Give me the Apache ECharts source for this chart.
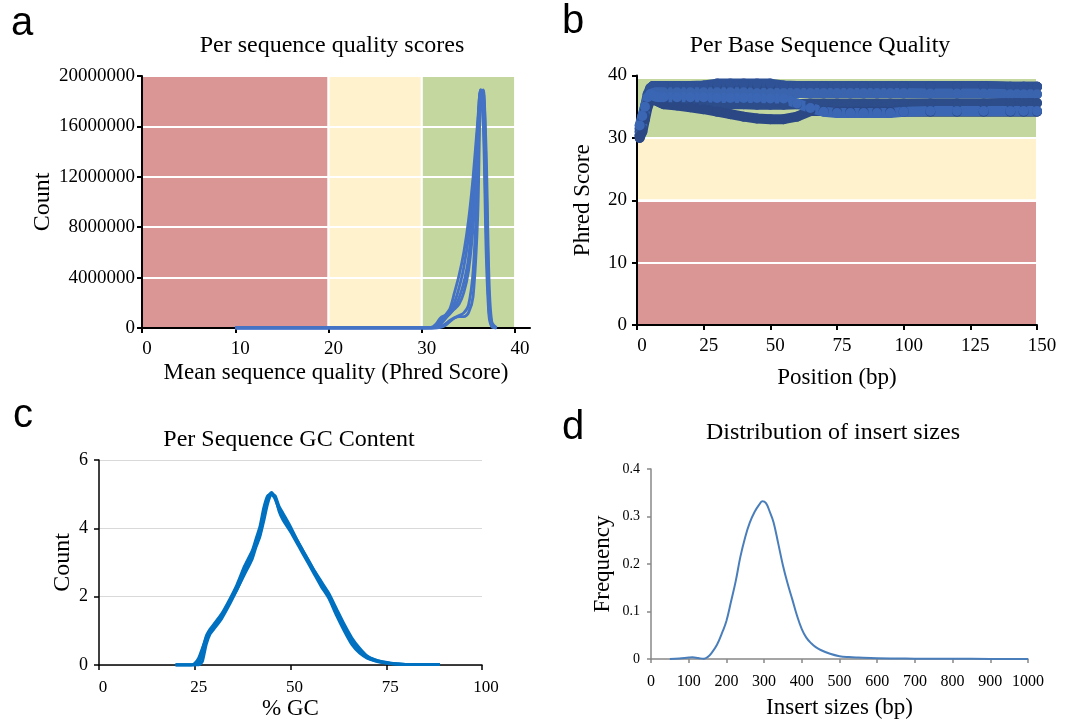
<!DOCTYPE html>
<html>
<head>
<meta charset="utf-8">
<script src="https://cdn.jsdelivr.net/npm/echarts@6/dist/echarts.min.js"></script>
<style>html,body{margin:0;padding:0;background:#fff;}#main{width:1084px;height:721px;}</style>
</head>
<body>
<div id="main"></div>
<script>
// ---------- Panel a: Per sequence quality scores ----------
const qualX = [10, 20, 30, 31, 31.5, 32, 32.5, 33, 33.5, 34, 34.5, 35, 35.5, 36, 36.3, 36.6, 36.9, 37.2, 37.5, 38];
// counts in millions
const qualS1 = [0,0,0,0,0.1,0.5,1.0,1.5,2.8,4.2,6.0,8.5,12,16.5,18.9,17,8,1.5,0.2,0];
const qualS2 = [0,0,0,0,0.05,0.3,0.7,1.2,2.0,3.2,4.8,7.2,11,16,18.8,18.5,10,2,0.3,0];
const qualS3 = [0,0,0,0,0,0.1,0.3,0.6,0.8,0.9,0.9,1.2,2.5,9,18.5,18.9,12,2.5,0.3,0.05];
const qualS4 = [0,0,0,0,0.1,0.4,0.8,1.1,1.6,2.4,3.6,5.5,9.5,15.5,18.6,16,6,1,0.1,0];
const qualS5 = [0,0,0,0,0,0.05,0.2,0.5,0.8,1.0,1.2,1.8,4.5,12,18.9,18.8,14,4,0.5,0];
const qualS6 = [0,0,0,0.05,0.3,0.8,1.0,1.2,1.5,1.9,2.8,4.5,8,14,18.7,17.5,9,1.5,0.2,0];
const qualUnit = 1000000;
const qualXTicks = [0, 10, 20, 30, 40];

// ---------- Panel b: Per Base Sequence Quality ----------
const posX = [1,2,3,4,5,6,7,8,9,10,15,20,25,30,35,40,45,50,55,60,65,70,75,80,85,90,95,100,110,120,130,140,145,150];
const baseS1 = [31,32.5,34.5,36.5,37.8,38.3,38.3,38.3,38.3,38.3,38.3,38.3,38.3,38.3,38.3,38.3,38.3,38.3,38.3,38.3,38.3,38.3,38.3,38.3,38.3,38.3,38.3,38.3,38.3,38.3,38.3,38.2,38.2,38.2];
const baseS2 = [31.5,33,35,37,38,38.3,38.3,38.3,38.3,38.3,38.3,38.3,38.4,38.7,38.7,38.7,38.7,38.7,38.4,38.3,38.3,38.3,38.3,38.3,38.3,38.3,38.3,38.3,38.3,38.3,38.3,38.2,38.2,38.2];
const baseS3 = [30.5,32,34,36,37,37.2,37.3,37.3,37.3,37.3,37.3,37.3,37.3,37.3,37.3,37.3,37.2,37.2,37.2,37.2,37.2,37.2,37.2,37.2,37.2,37.2,37.2,37.2,37.1,37.1,37.1,37.0,37.0,37.0];
const baseS4 = [30.3,31.5,33.5,35.5,36.2,36.3,36.2,36,36,35.9,35.8,35.7,35.6,35.5,35.4,35.4,35.3,35.3,35.3,35.4,35.5,35.5,35.5,35.5,35.5,35.5,35.5,35.5,35.5,35.5,35.5,35.6,35.6,35.6];
const baseS5 = [30,31,33,35,36,36.2,36,35.8,35.6,35.4,35.2,34.9,34.6,34.2,33.8,33.4,33.1,33.0,33.0,33.4,34.3,34.3,34.2,34.2,34.2,34.2,34.2,34.2,34.2,34.2,34.2,34.2,34.2,34.2];
const baseS6 = [32,33.5,35,36.5,37,36.8,36.6,36.5,36.5,36.5,36.5,36.5,36.5,36.4,36.4,36.4,36.4,36.3,36.3,35.5,34.8,34.2,34.0,34.0,34.0,34.0,34.0,34.2,34.3,34.3,34.3,34.3,34.3,34.3];

// ---------- Panel c: Per Sequence GC Content ----------
const gcX = [20,22,24,25,26,27,28,29,30,32,34,36,38,40,41,42,43,44,45,46,47,48,50,52,54,56,58,60,62,64,66,68,70,72,74,76,78,80,85,89];
const gcS1 = [0,0,0,0.05,0.2,0.5,0.8,1.0,1.15,1.45,1.85,2.3,2.8,3.3,3.6,3.95,4.5,4.9,5.05,4.9,4.6,4.4,4.0,3.6,3.2,2.8,2.4,2.05,1.6,1.15,0.75,0.45,0.25,0.15,0.09,0.05,0.03,0.02,0.01,0.01];
const gcS2 = [0,0,0,0,0.05,0.3,0.7,0.95,1.1,1.4,1.8,2.2,2.7,3.2,3.5,3.8,4.3,4.8,5.0,4.85,4.55,4.35,3.95,3.55,3.15,2.75,2.35,2.0,1.5,1.05,0.65,0.4,0.22,0.13,0.08,0.05,0.03,0.02,0.01,0.01];
const gcS3 = [0,0,0,0.02,0.15,0.45,0.85,1.05,1.2,1.5,1.9,2.35,2.9,3.35,3.7,4.05,4.6,4.95,5.0,4.95,4.65,4.45,4.05,3.6,3.2,2.8,2.45,2.1,1.65,1.2,0.8,0.5,0.27,0.16,0.1,0.06,0.03,0.02,0.01,0.01];
const gcS4 = [0,0,0,0,0,0.1,0.6,0.9,1.05,1.35,1.75,2.2,2.65,3.1,3.45,3.75,4.2,4.7,5.0,4.9,4.5,4.25,3.9,3.5,3.1,2.7,2.3,1.95,1.45,1.0,0.6,0.35,0.2,0.12,0.07,0.04,0.02,0.01,0.01,0.01];

// ---------- Panel d: Distribution of insert sizes ----------
const insX = [50,75,100,110,125,140,150,160,175,190,200,212,225,237,250,262,275,287,295,305,315,325,337,350,362,375,387,400,412,425,437,450,475,500,525,550,600,650,700,800,900,1000];
const insY = [0,0.001,0.003,0.0035,0.002,0.0005,0.004,0.012,0.03,0.058,0.08,0.12,0.165,0.215,0.257,0.287,0.31,0.325,0.332,0.328,0.31,0.288,0.245,0.197,0.16,0.125,0.092,0.063,0.045,0.033,0.025,0.019,0.011,0.006,0.004,0.003,0.0015,0.001,0.0007,0.0004,0.0002,0.0001];

// background quality bands: [xFrom, xTo, yFrom, yTo, color]
const RED = '#D99694', YELLOW = '#FFF2CC', GREEN = '#C4D79F';
const bandsA = [[0,20,0,20,RED],[20,30,0,20,YELLOW],[30,40,0,20,GREEN]]; // y in millions
const bandsB = [[0,150,0,20,RED],[0,150,20,30,YELLOW],[0,150,30,39.6,GREEN]];

const SERIF = 'Liberation Serif';

function pairs(xs, ys, k) { return xs.map((x, i) => [x, ys[i] * (k || 1)]); }

function bandSeries(bands, xi, yi, k) {
  return {
    type: 'custom', xAxisIndex: xi, yAxisIndex: yi, z: 0, silent: true,
    encode: { x: [0, 1], y: [2, 3] },
    data: bands.map(b => ({ value: [b[0], b[1], b[2] * k, b[3] * k], itemStyle: { color: b[4] } })),
    renderItem: function (params, api) {
      const p0 = api.coord([api.value(0), api.value(3)]);
      const p1 = api.coord([api.value(1), api.value(2)]);
      return { type: 'rect', shape: { x: p0[0], y: p0[1], width: p1[0] - p0[0], height: p1[1] - p0[1] },
        style: { fill: api.visual('color'), stroke: '#fff', lineWidth: 2 } };
    }
  };
}

const axisTxt = (size) => ({ fontFamily: SERIF, fontSize: size, color: '#000' });
const plain = v => String(v);

const chart = echarts.init(document.getElementById('main'));
const qualSeries = [qualS1, qualS2, qualS3, qualS4, qualS5, qualS6];
const baseSeries = [baseS1, baseS2, baseS3, baseS4, baseS5, baseS6];
const baseColors = ['#2C4A87', '#2F5296', '#3A64AE', '#2D4C8A', '#2B4885', '#3A66B4'];
const gcSeries = [gcS1, gcS2, gcS3, gcS4];

const series = [];
series.push(bandSeries(bandsA, 0, 0, qualUnit));
qualSeries.forEach(s => series.push({ type: 'line', xAxisIndex: 0, yAxisIndex: 0, z: 2, data: pairs(qualX, s, qualUnit),
  showSymbol: false, smooth: 0.3, lineStyle: { color: '#4472C4', width: 2.8 } }));
series.push(bandSeries(bandsB, 1, 1, 1));
baseSeries.forEach((s, i) => series.push({ type: 'line', xAxisIndex: 1, yAxisIndex: 1, z: 2, data: pairs(posX, s),
  showSymbol: true, symbol: 'circle', symbolSize: 10, itemStyle: { color: baseColors[i] },
  lineStyle: { color: baseColors[i], width: 10, cap: 'round', join: 'round' } }));
gcSeries.forEach(s => series.push({ type: 'line', xAxisIndex: 2, yAxisIndex: 2, z: 2, data: pairs(gcX, s),
  showSymbol: false, smooth: 0.2, lineStyle: { color: '#0070C0', width: 2.8 } }));
series.push({ type: 'line', xAxisIndex: 3, yAxisIndex: 3, z: 2, data: pairs(insX, insY),
  showSymbol: false, smooth: 0.4, lineStyle: { color: '#4A7EBB', width: 2 } });

function label(text, x, y, font) {
  return { type: 'text', x: x, y: y, style: { text: text, font: font, fill: '#000', textAlign: 'center', textVerticalAlign: 'middle' } };
}
const TITLE_FONT = '24px "Liberation Serif"';
const LETTER_FONT = '40px "Liberation Sans"';

const option = {
  animation: false,
  backgroundColor: '#fff',
  grid: [
    { left: 142, top: 76, width: 388, height: 252 },
    { left: 637, top: 75.5, width: 400, height: 249.5 },
    { left: 99, top: 460, width: 383, height: 206 },
    { left: 651, top: 469, width: 377, height: 190 }
  ],
  xAxis: [
    { gridIndex: 0, type: 'value', min: 0, max: 41.6, z: 1,
      axisLine: { lineStyle: { color: '#000', width: 2 } },
      axisTick: { length: 5, customValues: qualXTicks, lineStyle: { color: '#000', width: 2 } },
      axisLabel: Object.assign({ customValues: qualXTicks, margin: 12, padding: [0, 0, 0, 10] }, axisTxt(19)),
      splitLine: { show: false },
      name: 'Mean sequence quality (Phred Score)', nameLocation: 'middle', nameGap: 33, nameTextStyle: axisTxt(23) },
    { gridIndex: 1, type: 'value', min: 0, max: 150, interval: 25, z: 1,
      axisLine: { lineStyle: { color: '#000', width: 2 } },
      axisTick: { length: 5, lineStyle: { color: '#000', width: 2 } },
      axisLabel: Object.assign({ margin: 12, padding: [0, 0, 0, 10] }, axisTxt(19)),
      splitLine: { show: false },
      name: 'Position (bp)', nameLocation: 'middle', nameGap: 41, nameTextStyle: axisTxt(23) },
    { gridIndex: 2, type: 'value', min: 0, max: 100, interval: 25, z: 1,
      axisLine: { lineStyle: { color: '#000', width: 1.5 } },
      axisTick: { length: 5, lineStyle: { color: '#000', width: 1.5 } },
      axisLabel: Object.assign({ margin: 14, padding: [0, 0, 0, 8] }, axisTxt(17)),
      splitLine: { show: false },
      name: '% GC', nameLocation: 'middle', nameGap: 32, nameTextStyle: axisTxt(23) },
    { gridIndex: 3, type: 'value', min: 0, max: 1000, interval: 100, z: 1,
      axisLine: { lineStyle: { color: '#888', width: 1.5 } },
      axisTick: { length: 4, lineStyle: { color: '#888', width: 1.5 } },
      axisLabel: Object.assign({ margin: 15, formatter: plain }, axisTxt(16)),
      splitLine: { show: false },
      name: 'Insert sizes (bp)', nameLocation: 'middle', nameGap: 37, nameTextStyle: axisTxt(23) }
  ],
  yAxis: [
    { gridIndex: 0, type: 'value', min: 0, max: 20 * qualUnit, interval: 4 * qualUnit, z: 1,
      axisLine: { show: true, lineStyle: { color: '#000', width: 2 } },
      axisTick: { show: true, length: 5, lineStyle: { color: '#000', width: 2 } },
      axisLabel: Object.assign({ margin: 7, formatter: plain }, axisTxt(19)),
      splitLine: { show: true, lineStyle: { color: '#fff', width: 2 } },
      name: 'Count', nameLocation: 'middle', nameGap: 82, nameTextStyle: axisTxt(24) },
    { gridIndex: 1, type: 'value', min: 0, max: 40, interval: 10, z: 1,
      axisLine: { show: true, lineStyle: { color: '#000', width: 2 } },
      axisTick: { show: true, length: 5, lineStyle: { color: '#000', width: 2 } },
      axisLabel: Object.assign({ margin: 10 }, axisTxt(19)),
      splitLine: { show: true, lineStyle: { color: '#fff', width: 2 } },
      name: 'Phred Score', nameLocation: 'middle', nameGap: 43, nameTextStyle: axisTxt(23) },
    { gridIndex: 2, type: 'value', min: 0, max: 6, interval: 2, z: 1,
      axisLine: { show: true, lineStyle: { color: '#000', width: 1.5 } },
      axisTick: { show: true, length: 5, lineStyle: { color: '#000', width: 1.5 } },
      axisLabel: Object.assign({ margin: 11 }, axisTxt(18)),
      splitLine: { show: true, lineStyle: { color: '#D9D9D9', width: 1 } },
      name: 'Count', nameLocation: 'middle', nameGap: 24, nameTextStyle: axisTxt(24) },
    { gridIndex: 3, type: 'value', min: 0, max: 0.4, interval: 0.1, z: 1,
      axisLine: { show: true, lineStyle: { color: '#888', width: 1.5 } },
      axisTick: { show: true, length: 4, lineStyle: { color: '#888', width: 1.5 } },
      axisLabel: Object.assign({ margin: 11 }, axisTxt(14)),
      splitLine: { show: false },
      name: 'Frequency', nameLocation: 'middle', nameGap: 37, nameTextStyle: axisTxt(23) }
  ],
  graphic: [
    label('Per sequence quality scores', 332, 46, TITLE_FONT),
    label('Per Base Sequence Quality', 820, 46, TITLE_FONT),
    label('Per Sequence GC Content', 289, 440, TITLE_FONT),
    label('Distribution of insert sizes', 833, 433, TITLE_FONT),
    label('a', 22, 24, LETTER_FONT),
    label('b', 573, 22, LETTER_FONT),
    label('c', 23, 416, LETTER_FONT),
    label('d', 573, 428, LETTER_FONT)
  ],
  series: series
};
chart.setOption(option);
</script>
</body>
</html>
